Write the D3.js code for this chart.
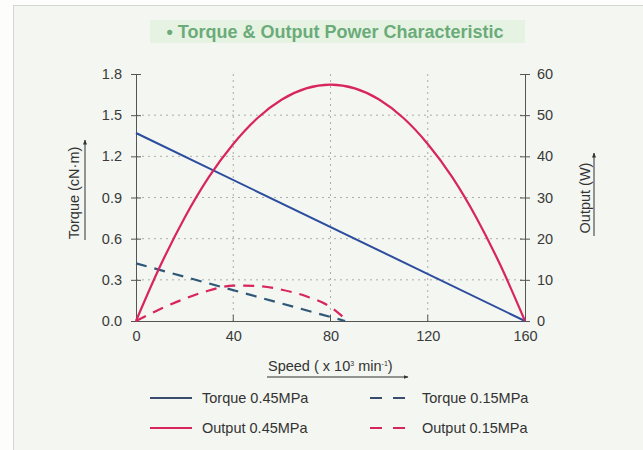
<!DOCTYPE html>
<html>
<head>
<meta charset="utf-8">
<script src="https://cdn.jsdelivr.net/npm/d3@7"></script>
<style>
  body { margin: 0; background: #fdfdfc; }
  text { font-family: "Liberation Sans", Arial, sans-serif; }
</style>
</head>
<body>
<svg id="chart" width="643" height="450"></svg>
<script>
// speed in x10^3 min-1
const speedTicks = [0, 40, 80, 120, 160];
const torqueTicks = [0.0, 0.3, 0.6, 0.9, 1.2, 1.5, 1.8];
const outputTicks = [0, 10, 20, 30, 40, 50, 60];

const torque045 = [[0, 1.37], [160, 0]];
const torque015 = [[0, 0.42], [86, 0]];
const output045 = [[0, 0], [10, 13.4], [20, 25.1], [30, 35.0], [40, 43.0], [50, 49.3], [60, 53.8],
    [70, 56.5], [80, 57.4], [90, 56.5], [100, 53.8], [110, 49.3], [120, 43.0], [130, 35.0],
    [140, 25.1], [150, 13.4], [160, 0]];
const output015 = [[0, 0], [10, 2.9], [20, 5.4], [30, 7.4], [40, 8.6], [50, 8.5], [60, 7.6],
    [70, 6.0], [80, 3.4], [87, 0]];

const legendItems = [
    {label: "Torque 0.45MPa", color: "#3a4d6e", dash: null},
    {label: "Torque 0.15MPa", color: "#3a4d6e", dash: "12,11"},
    {label: "Output 0.45MPa", color: "#d8245f", dash: null},
    {label: "Output 0.15MPa", color: "#d8245f", dash: "12,11"}
];

const blue = "#2c4c9e";
const red = "#d8245f";
const axisColor = "#555";
const fs = "14.5px";

const margin = {top: 74, right: 118, bottom: 129, left: 136};
const width = 525 - margin.left;
const height = 321 - margin.top;

let svg = d3.select("#chart");

// panel background
svg.append("rect")
    .attr("x", 13.5).attr("y", 5.5)
    .attr("width", 640).attr("height", 450)
    .attr("fill", "#f3f6f1")
    .attr("stroke", "#d4d6d2");

// title
svg.append("rect")
    .attr("x", 150).attr("y", 20)
    .attr("width", 375).attr("height", 23)
    .attr("fill", "#e6f3e3");
svg.append("text")
    .attr("x", 335).attr("y", 38)
    .attr("text-anchor", "middle")
    .attr("fill", "#6aab79")
    .style("font-size", "18px")
    .style("font-weight", "bold")
    .text("\u2022 Torque & Output Power Characteristic");

let x = d3.scaleLinear().domain([0, 160]).range([0, width]);
let yL = d3.scaleLinear().domain([0, 1.8]).range([height, 0]);
let yR = d3.scaleLinear().domain([0, 60]).range([height, 0]);

let g = svg.append("g")
    .attr("transform", "translate(" + margin.left + "," + margin.top + ")");

// grid
g.append("g")
    .selectAll("line")
    .data(torqueTicks.filter(d => d > 0 && d < 1.8))
    .enter()
    .append("line")
        .attr("x1", 0).attr("x2", width)
        .attr("y1", d => yL(d)).attr("y2", d => yL(d))
        .attr("stroke", "#9a9a9a")
        .attr("stroke-width", 0.8)
        .attr("stroke-dasharray", "2,4");
g.append("g")
    .selectAll("line")
    .data(speedTicks.filter(d => d > 0 && d < 160))
    .enter()
    .append("line")
        .attr("x1", d => x(d)).attr("x2", d => x(d))
        .attr("y1", 0).attr("y2", height)
        .attr("stroke", "#9a9a9a")
        .attr("stroke-width", 0.8)
        .attr("stroke-dasharray", "2,4");

// axes
let leftAxis = d3.axisLeft(yL).tickValues(torqueTicks).tickFormat(d3.format(".1f")).tickSize(5).tickPadding(9);
let rightAxis = d3.axisRight(yR).tickValues(outputTicks).tickSize(5).tickPadding(7);
let bottomAxis = d3.axisBottom(x).tickValues(speedTicks).tickSize(0).tickPadding(10);

function styleAxis(sel) {
    sel.select(".domain").attr("stroke", axisColor);
    sel.selectAll(".tick line").attr("stroke", axisColor);
    sel.selectAll(".tick text")
        .attr("fill", "#3a3a3a")
        .style("font-size", fs)
        .style("font-family", "'Liberation Sans', Arial, sans-serif");
}

g.append("g").call(leftAxis).call(styleAxis)
    .selectAll(".tick line").attr("x2", 5).attr("x1", -5);
g.append("g").attr("transform", "translate(" + width + ",0)").call(rightAxis).call(styleAxis)
    .selectAll(".tick line").attr("x1", -5).attr("x2", 5);
g.append("g").attr("transform", "translate(0," + height + ")").call(bottomAxis).call(styleAxis);
// inward x ticks
g.append("g")
    .selectAll("line")
    .data(speedTicks.filter(d => d > 0 && d < 160))
    .enter()
    .append("line")
        .attr("x1", d => x(d)).attr("x2", d => x(d))
        .attr("y1", height - 6).attr("y2", height + 1)
        .attr("stroke", axisColor);

// lines
let lineL = d3.line().x(d => x(d[0])).y(d => yL(d[1]));
let lineR = d3.line().curve(d3.curveMonotoneX).x(d => x(d[0])).y(d => yR(d[1]));

g.append("path").datum(torque045).attr("d", lineL)
    .attr("fill", "none").attr("stroke", blue).attr("stroke-width", 2);
g.append("path").datum(torque015).attr("d", lineL)
    .attr("fill", "none").attr("stroke", "#2f5878").attr("stroke-width", 2.2)
    .attr("stroke-dasharray", "11,8");
g.append("path").datum(output045).attr("d", lineR)
    .attr("fill", "none").attr("stroke", red).attr("stroke-width", 2.2);
g.append("path").datum(output015).attr("d", lineR)
    .attr("fill", "none").attr("stroke", red).attr("stroke-width", 2.2)
    .attr("stroke-dasharray", "11,8");

// axis titles
svg.append("text")
    .attr("transform", "translate(79,193) rotate(-90)")
    .attr("text-anchor", "middle")
    .attr("fill", "#333")
    .style("font-size", fs)
    .text("Torque (cN\u00b7m)");
svg.append("text")
    .attr("transform", "translate(590,198) rotate(-90)")
    .attr("text-anchor", "middle")
    .attr("fill", "#333")
    .style("font-size", fs)
    .text("Output (W)");
let sp = svg.append("text")
    .attr("x", 268).attr("y", 371)
    .attr("fill", "#333")
    .style("font-size", fs);
sp.append("tspan").text("Speed ( x 10");
sp.append("tspan").attr("dy", -5).style("font-size", "7px").text("3");
sp.append("tspan").attr("dy", 5).text(" min");
sp.append("tspan").attr("dy", -5).style("font-size", "7px").text("-1");
sp.append("tspan").attr("dy", 5).text(")");

// arrows under the titles
svg.append("defs").append("marker")
    .attr("id", "arr")
    .attr("viewBox", "0 0 10 10")
    .attr("refX", 9).attr("refY", 5)
    .attr("markerWidth", 5).attr("markerHeight", 5)
    .attr("orient", "auto")
    .append("path").attr("d", "M0,1 L10,5 L0,9 Z").attr("fill", "#333");

function arrow(x1, y1, x2, y2) {
    svg.append("line")
        .attr("x1", x1).attr("y1", y1).attr("x2", x2).attr("y2", y2)
        .attr("stroke", "#333").attr("stroke-width", 1)
        .attr("marker-end", "url(#arr)");
}
arrow(85, 240, 85, 140);
arrow(594, 236, 594, 153);
arrow(267, 377, 408, 377);

// legend
let lg = svg.append("g");
lg.selectAll("g")
    .data(legendItems)
    .enter()
    .append("g")
        .attr("transform", (d, i) => "translate(" + (150 + (i % 2) * 220) + "," + (398 + Math.floor(i / 2) * 30) + ")")
        .each(function(d) {
            let it = d3.select(this);
            it.append("line")
                .attr("x1", 0).attr("x2", d.dash ? 43 : 42)
                .attr("stroke", d.color).attr("stroke-width", 2)
                .attr("stroke-dasharray", d.dash);
            it.append("text")
                .attr("x", 52).attr("y", 5)
                .attr("fill", "#333")
                .style("font-size", fs)
                .text(d.label);
        });
</script>
</body>
</html>
